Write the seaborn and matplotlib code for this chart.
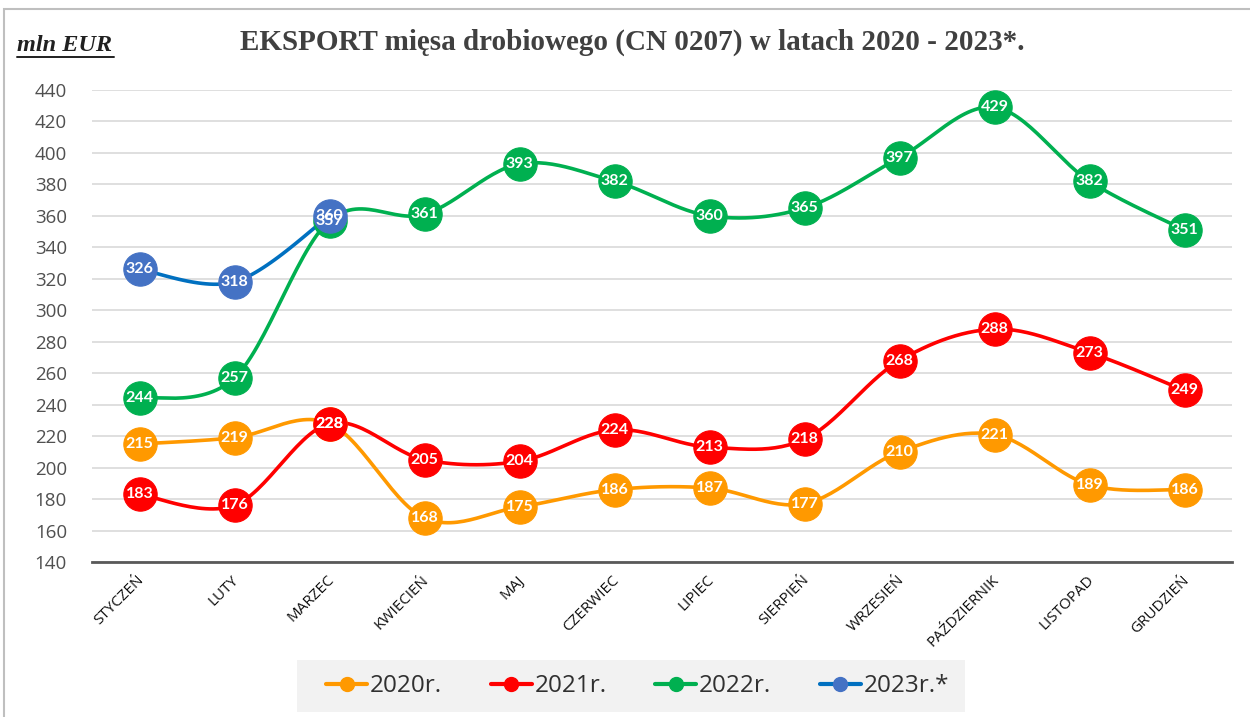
import numpy as np
import matplotlib
matplotlib.use("Agg")
import matplotlib.pyplot as plt
import seaborn as sns
from matplotlib.lines import Line2D
from matplotlib.patches import Rectangle

months = ["STYCZEŃ", "LUTY", "MARZEC", "KWIECIEŃ", "MAJ", "CZERWIEC", "LIPIEC",
          "SIERPIEŃ", "WRZESIEŃ", "PAŹDZIERNIK", "LISTOPAD", "GRUDZIEŃ"]
y2020 = [215, 219, 228, 168, 175, 186, 187, 177, 210, 221, 189, 186]
y2021 = [183, 176, 228, 205, 204, 224, 213, 218, 268, 288, 273, 249]
y2022 = [244, 257, 357, 361, 393, 382, 360, 365, 397, 429, 382, 351]
y2023 = [326, 318, 360]

series = [
    ("2020r.", y2020, "#FF9900", "#FF9900"),
    ("2021r.", y2021, "#FF0000", "#FF0000"),
    ("2022r.", y2022, "#00B050", "#00B050"),
    ("2023r.*", y2023, "#0070C0", "#4472C4"),
]


def smooth(xs, ys, n=30):
    # Excel-style smoothed line (Catmull-Rom as cubic Bezier)
    xs = np.asarray(xs, float)
    ys = np.asarray(ys, float)
    px = np.concatenate([[xs[0]], xs, [xs[-1]]])
    py = np.concatenate([[ys[0]], ys, [ys[-1]]])
    ox, oy = [], []
    t = np.linspace(0, 1, n)
    for i in range(1, len(px) - 2):
        p0 = np.array([px[i], py[i]])
        p3 = np.array([px[i + 1], py[i + 1]])
        c1 = p0 + (np.array([px[i + 1], py[i + 1]]) - np.array([px[i - 1], py[i - 1]])) / 6
        c2 = p3 - (np.array([px[i + 2], py[i + 2]]) - np.array([px[i], py[i]])) / 6
        b = ((1 - t) ** 3)[:, None] * p0 + (3 * (1 - t) ** 2 * t)[:, None] * c1 \
            + (3 * (1 - t) * t ** 2)[:, None] * c2 + (t ** 3)[:, None] * p3
        ox.extend(b[:, 0])
        oy.extend(b[:, 1])
    return np.array(ox), np.array(oy)


sns.set_theme(style="white")
plt.rcParams["font.family"] = ["Open Sans", "DejaVu Sans"]

fig = plt.figure(figsize=(12.5, 7.17), dpi=100)
ax = fig.add_axes([0.0736, 0.2162, 0.912, 0.6583])

for name, vals, lc, mc in series:
    x = np.arange(len(vals))
    sx, sy = smooth(x, vals)
    sns.lineplot(x=sx, y=sy, ax=ax, color=lc, linewidth=2.6, sort=False,
                 estimator=None, zorder=3)

for name, vals, lc, mc in series:
    x = np.arange(len(vals))
    ax.plot(x, vals, "o", color=mc, markersize=24, markeredgecolor=mc,
            markeredgewidth=0.8, zorder=4, linestyle="none")

for name, vals, lc, mc in series:
    for i, v in enumerate(vals):
        ax.text(i, v, str(v), ha="center", va="center", color="white",
                fontsize=11.5, fontweight="bold", family=["Lato", "DejaVu Sans"],
                zorder=5)

ax.set_xlim(-0.5, 11.5)
ax.set_ylim(140, 440)
ax.set_yticks(range(140, 441, 20))
ax.yaxis.grid(True, color="#D9D9D9", linewidth=1.2)
ax.set_axisbelow(True)
for s in ["left", "right", "top"]:
    ax.spines[s].set_visible(False)
ax.spines["bottom"].set_color("#595959")
ax.spines["bottom"].set_linewidth(2)
ax.tick_params(axis="y", length=0, pad=18, labelsize=13.5, labelcolor="#505050")
ax.tick_params(axis="x", length=0, pad=4)

ax.set_xticks(range(len(months)))
ax.set_xticklabels(months, rotation=45, ha="right", va="top",
                   rotation_mode="anchor", fontsize=11, color="#101010")
for lbl in ax.get_xticklabels():
    lbl.set_transform(lbl.get_transform() +
                      matplotlib.transforms.ScaledTranslation(-3 / 100, -5 / 100, fig.dpi_scale_trans))
ax.set_xlabel("")
ax.set_ylabel("")

fig.text(0.506, 0.941, "EKSPORT mięsa drobiowego (CN 0207) w latach 2020 - 2023*.",
         ha="center", va="center", fontsize=21, fontweight="bold",
         color="#404040", family="Liberation Serif")
fig.text(0.0136, 0.937, "mln EUR", ha="left", va="center", fontsize=17.5,
         fontweight="bold", fontstyle="italic", color="#202020",
         family="Liberation Serif")
fig.add_artist(Line2D([17 / 1250, 114 / 1250], [1 - 57 / 717, 1 - 57 / 717],
                      color="#202020", linewidth=1.4))

# outer chart frame
fig.add_artist(Rectangle((4 / 1250, -0.05), 1.1, 1 - 8.5 / 717 + 0.05,
                         fill=False, edgecolor="#BFBFBF", linewidth=1.5))

# legend background band
fig.add_artist(Rectangle((297 / 1250, 1 - 712 / 717), 668 / 1250, 52 / 717,
                         facecolor="#F2F2F2", edgecolor="none", zorder=0))

handles = [Line2D([0], [0], color=lc, marker="o", markersize=10,
                  markerfacecolor=mc, markeredgecolor=mc, linewidth=3)
           for name, vals, lc, mc in series]
leg = fig.legend(handles, [s[0] for s in series], loc="center",
                 bbox_to_anchor=(0.51, 0.043), ncol=4, frameon=False,
                 fontsize=17.5, handlelength=1.7, handletextpad=0.1,
                 columnspacing=2.0, borderpad=0.3)
for t in leg.get_texts():
    t.set_color("#303030")

fig.savefig("out.png", dpi=100, facecolor="white")
